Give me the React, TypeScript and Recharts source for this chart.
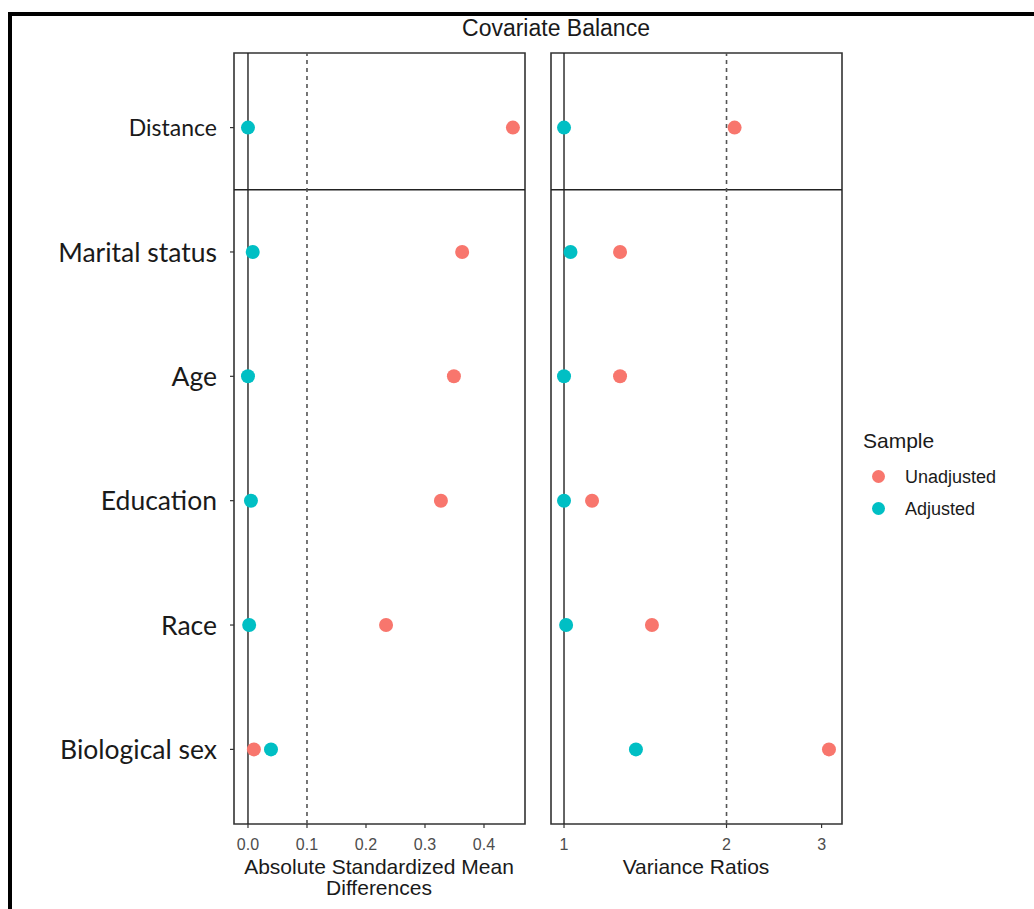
import React from 'react';
import {
  ScatterChart,
  Scatter,
  XAxis,
  YAxis,
  ReferenceLine,
  ReferenceArea,
} from 'recharts';

// covariates, top to bottom
const covariates = ['Distance', 'Marital status', 'Age', 'Education', 'Race', 'Biological sex'];

// absolute standardized mean differences
const smdUnadjusted = [0.449, 0.363, 0.349, 0.327, 0.234, 0.01];
const smdAdjusted = [0.0, 0.008, 0.0, 0.005, 0.002, 0.039];

// variance ratios
const vrUnadjusted = [2.07, 1.27, 1.27, 1.127, 1.455, 3.096];
const vrAdjusted = [1.0, 1.028, 1.0, 1.0, 1.009, 1.359];

const smdTicks = [0, 0.1, 0.2, 0.3, 0.4];
const vrTicks = [1, 2, 3];

const RED = '#F8766D';
const TEAL = '#00BFC4';
const R_FONT = '"Liberation Sans", Arial, sans-serif';
const LABEL_FONT = 'Lato, "Open Sans", sans-serif';

const Y_DOMAIN: [number, number] = [-0.6, 5.6];
const SMD_DOMAIN: [number, number] = [-0.0237, 0.4695];
const VR_DOMAIN: [number, number] = [0.946, 3.273];

const toPoints = (values: number[]) => values.map((v, i) => ({ x: v, y: i }));

const dot = (color: string) => (props: any) => (
  <circle cx={props.cx} cy={props.cy} r={7} fill={color} />
);

const YTick = (props: any) => {
  const { x, y, payload } = props;
  const label = covariates[payload.value];
  const size = payload.value === 0 ? 23 : 26.5;
  return (
    <text x={x} y={y} dy="0.36em" textAnchor="end" fontFamily={LABEL_FONT} fontSize={size} fill="#1a1a1a">
      {label}
    </text>
  );
};

const tickStyle = { fontFamily: R_FONT, fontSize: 16, fill: '#4d4d4d' };

const Panel = ({ left, width, domain, ticks, scale, unadj, adj, zeroAt, cutAt, showY, margin, fmt }: any) => (
  <div style={{ position: 'absolute', left, top: 0 }}>
    <ScatterChart width={width} height={909} margin={margin}>
      <XAxis
        type="number"
        dataKey="x"
        scale={scale}
        domain={domain}
        ticks={ticks}
        allowDataOverflow
        height={85}
        axisLine={false}
        tickSize={4}
        tickMargin={11}
        tickLine={{ stroke: '#333', strokeWidth: 1.2 }}
        tick={tickStyle}
        tickFormatter={fmt}
        interval={0}
      />
      <YAxis
        type="number"
        dataKey="y"
        domain={Y_DOMAIN}
        ticks={[0, 1, 2, 3, 4, 5]}
        reversed
        allowDataOverflow
        hide={!showY}
        width={showY ? 234 : 0}
        axisLine={false}
        tickSize={4}
        tickMargin={13}
        tickLine={{ stroke: '#333', strokeWidth: 1.2 }}
        tick={<YTick />}
        interval={0}
      />
      <ReferenceArea
        x1={domain[0]}
        x2={domain[1]}
        y1={Y_DOMAIN[0]}
        y2={Y_DOMAIN[1]}
        fill="none"
        stroke="#333"
        strokeWidth={1.6}
        ifOverflow="visible"
      />
      <ReferenceLine y={0.5} stroke="#222" strokeWidth={1.4} />
      <ReferenceLine x={zeroAt} stroke="#222" strokeWidth={1.4} />
      <ReferenceLine x={cutAt} stroke="#555" strokeWidth={1.6} strokeDasharray="4 4" />
      <Scatter data={toPoints(unadj)} shape={dot(RED)} isAnimationActive={false} />
      <Scatter data={toPoints(adj)} shape={dot(TEAL)} isAnimationActive={false} />
    </ScatterChart>
  </div>
);

export default function App() {
  return (
    <div
      style={{
        position: 'absolute',
        left: 0,
        top: 0,
        width: 1034,
        height: 909,
        overflow: 'hidden',
        background: '#fff',
        fontFamily: R_FONT,
      }}
    >
      <div
        style={{
          position: 'absolute',
          left: 8,
          top: 12,
          width: 1040,
          height: 910,
          borderTop: '4px solid #000',
          borderLeft: '4px solid #000',
        }}
      />
      <div
        style={{
          position: 'absolute',
          left: 356,
          width: 400,
          top: 14,
          textAlign: 'center',
          fontSize: 23,
          color: '#1a1a1a',
          lineHeight: '28px',
        }}
      >
        Covariate Balance
      </div>

      <Panel
        left={0}
        width={540}
        margin={{ top: 53, right: 15, bottom: 0, left: 0 }}
        domain={SMD_DOMAIN}
        ticks={smdTicks}
        scale="linear"
        unadj={smdUnadjusted}
        adj={smdAdjusted}
        zeroAt={0}
        cutAt={0.1}
        showY
        fmt={(v: number) => v.toFixed(1)}
      />
      <Panel
        left={540}
        width={320}
        margin={{ top: 53, right: 18, bottom: 0, left: 11 }}
        domain={VR_DOMAIN}
        ticks={vrTicks}
        scale="log"
        unadj={vrUnadjusted}
        adj={vrAdjusted}
        zeroAt={1}
        cutAt={2}
        showY={false}
        fmt={(v: number) => String(v)}
      />

      <div
        style={{
          position: 'absolute',
          left: 229,
          width: 300,
          top: 856,
          textAlign: 'center',
          fontSize: 21,
          lineHeight: '21px',
          color: '#1a1a1a',
        }}
      >
        Absolute Standardized Mean
        <br />
        Differences
      </div>
      <div
        style={{
          position: 'absolute',
          left: 546,
          width: 300,
          top: 856,
          textAlign: 'center',
          fontSize: 21,
          lineHeight: '21px',
          color: '#1a1a1a',
        }}
      >
        Variance Ratios
      </div>

      <div style={{ position: 'absolute', left: 863, top: 428, fontSize: 21, color: '#1a1a1a', lineHeight: '26px' }}>
        Sample
      </div>
      {[
        { name: 'Unadjusted', color: RED, y: 477 },
        { name: 'Adjusted', color: TEAL, y: 509 },
      ].map((item) => (
        <div key={item.name}>
          <div
            style={{
              position: 'absolute',
              left: 872,
              top: item.y - 7,
              width: 13,
              height: 13,
              borderRadius: '50%',
              background: item.color,
            }}
          />
          <div
            style={{
              position: 'absolute',
              left: 905,
              top: item.y - 11,
              fontSize: 18,
              lineHeight: '22px',
              color: '#1a1a1a',
            }}
          >
            {item.name}
          </div>
        </div>
      ))}
    </div>
  );
}
